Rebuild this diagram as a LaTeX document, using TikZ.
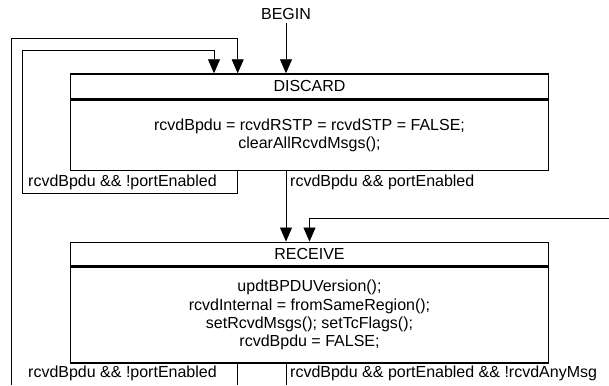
\documentclass[tikz,border=0pt]{standalone}
\usepackage{fontspec}
\setmainfont{Liberation Sans}
\usetikzlibrary{arrows.meta,positioning}

\tikzset{
	statehead/.style={draw, line width=1.5pt, minimum width=477.6pt, minimum height=24.7pt, inner sep=0pt, font=\fontsize{16}{18.4}\selectfont},
	statebody/.style={draw, line width=1.5pt, minimum width=477.6pt, inner sep=0pt, align=center, font=\fontsize{16}{18.4}\selectfont},
	cond/.style={anchor=west, inner sep=0pt, font=\fontsize{16}{18.4}\selectfont},
	trans/.style={line width=0.8pt, -{Triangle[length=14pt,width=12pt]}},
	plain/.style={line width=0.8pt}
}

\begin{document}
\begin{tikzpicture}[x=1pt, y=-1pt]
	\useasboundingbox (0,0) rectangle (609,385);

	%columns of the connectors
	\coordinate (xa) at (214,0);
	\coordinate (xb) at (237.7,0);
	\coordinate (xc) at (286,0);
	\coordinate (xd) at (309.5,0);

	%free ends at the picture border
	\coordinate (outerin) at (11.3,385);
	\coordinate (rightin) at (609,218.3);
	\coordinate (recvout1) at (237.7,385);
	\coordinate (recvout2) at (286,385);

	%start
	\node[font=\fontsize{16}{18.4}\selectfont] (begin) at (286,14){BEGIN};

	%state DISCARD
	\node[statehead] (discard) at (309.5,86.4){DISCARD};
	\node[statebody, minimum height=70.3pt, anchor=north] (discardact) at (discard.south){rcvdBpdu = rcvdRSTP = rcvdSTP = FALSE;\\clearAllRcvdMsgs();};

	%state RECEIVE
	\node[statehead, minimum height=23.4pt] (receive) at (309.5,254){RECEIVE};
	\node[statebody, minimum height=96pt, anchor=north] (receiveact) at (receive.south){updtBPDUVersion();\\rcvdInternal = fromSameRegion();\\setRcvdMsgs(); setTcFlags();\\rcvdBpdu = FALSE;};

	%conditions
	\node[cond] (c1) at (28,182){rcvdBpdu \&\& !portEnabled};
	\node[cond] (c2) at (290,182){rcvdBpdu \&\& portEnabled};
	\node[cond] (c3) at (28,373){rcvdBpdu \&\& !portEnabled};
	\node[cond] (c4) at (290,373){rcvdBpdu \&\& portEnabled \&\& !rcvdAnyMsg};

	\draw[trans] (begin.south) -- (discard.north -| begin);

	\draw[trans] (discardact.south -| xb) -- (237.7,193.5) -- (22.7,193.5) -- (22.7,50) -- (214,50) -- (discard.north -| xa);
	\draw[trans] (outerin) -- (11.3,38.3) -- (237.7,38.3) -- (discard.north -| xb);

	\draw[trans] (discardact.south -| xc) -- (receive.north -| xc);
	\draw[trans] (rightin) -| (receive.north -| xd);

	\draw[plain] (receiveact.south -| xb) -- (recvout1);
	\draw[plain] (receiveact.south -| xc) -- (recvout2);

\end{tikzpicture}
\end{document}
